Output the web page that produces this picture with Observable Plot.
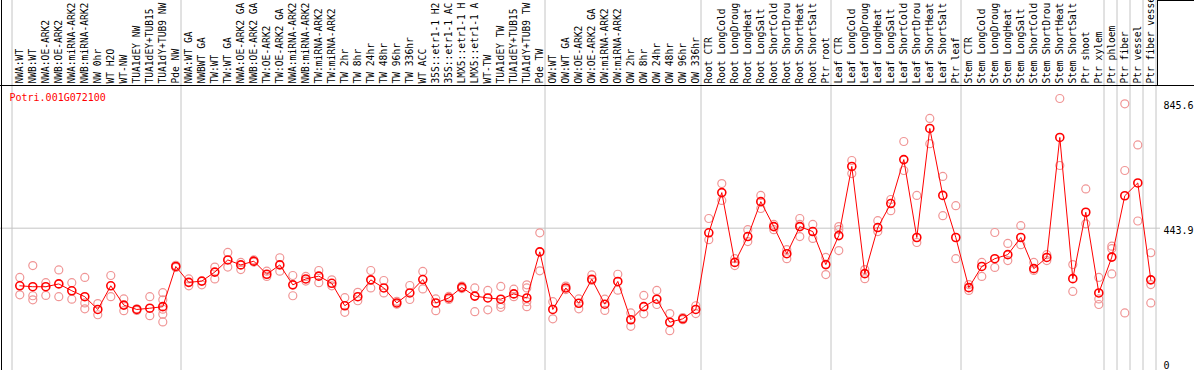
<!DOCTYPE html>
<html><head><meta charset="utf-8">
<script src="https://cdn.jsdelivr.net/npm/d3@7"></script>
<script src="https://cdn.jsdelivr.net/npm/@observablehq/plot@0.6"></script>
<style>body{margin:0;background:#fff;overflow:hidden} svg{display:block}</style>
</head><body><div id="chart"></div>
<script>
const geneId = "Potri.001G072100";
const categories = [
  "NWA:WT","NWB:WT","NWA:OE-ARK2","NWB:OE-ARK2","NWA:miRNA-ARK2","NWB:miRNA-ARK2","NW 0hr","WT H2O","WT-NW","TUA1dEY NW","TUA1dEY+TUB15","TUA1dY+TUB9 NW","Pde NW",
  "NWA:WT GA","NWBWT GA","TW:WT","TW:WT GA","NWA:OE-ARK2 GA","NWB:OE-ARK2 GA","TW:OE-ARK2","TW:OE-ARK2 GA","NWA:miRNA-ARK2","NWB:miRNA-ARK2","TW:miRNA-ARK2","TW:miRNA-ARK2","TW 2hr","TW 8hr","TW 24hr","TW 48hr","TW 96hr","TW 336hr","WT ACC","35S::etr1-1 H2","35S::etr1-1 AC","LMX5::etr1-1 H","LMX5::etr1-1 A","WT-TW","TUA1dEY TW","TUA1dEY+TUB15","TUA1dY+TUB9 TW","Pde TW",
  "OW:WT","OW:WT GA","OW:OE-ARK2","OW:OE-ARK2 GA","OW:miRNA-ARK2","OW:miRNA-ARK2","OW 2hr","OW 8hr","OW 24hr","OW 48hr","OW 96hr","OW 336hr",
  "Root CTR","Root LongCold","Root LongDroug","Root LongHeat","Root LongSalt","Root ShortCold","Root ShortDrou","Root ShortHeat","Root ShortSalt","Ptr root",
  "Leaf CTR","Leaf LongCold","Leaf LongDroug","Leaf LongHeat","Leaf LongSalt","Leaf ShortCold","Leaf ShortDrou","Leaf ShortHeat","Leaf ShortSalt","Ptr leaf",
  "Stem CTR","Stem LongCold","Stem LongDroug","Stem LongHeat","Stem LongSalt","Stem ShortCold","Stem ShortDrou","Stem ShortHeat","Stem ShortSalt","Ptr shoot",
  "Ptr xylem","Ptr phloem","Ptr fiber","Ptr vessel","Ptr fiber vessel"
];
const means = [
  259,256,256,265,243,224,183,259,197,183,187,192,321,
  270,274,303,342,326,338,296,326,262,281,290,267,195,224,278,252,204,236,279,204,220,254,226,220,216,233,220,368,
  183,252,203,280,200,273,150,192,216,142,153,183,
  429,558,334,417,529,449,362,449,433,327,
  420,642,298,446,523,664,414,764,549,414,
  253,321,346,359,414,314,350,735,282,495,
  236,351,548,589,278
];
const replicates = [
  [286,230],[324,227,214],[269,228],[310,224],[269,216],[286,204,185],[202,166],[292,224],[217,179],[185,180],[224,163],[237,214,184,168,143],[325,318],
  [281,259],[262],[319,281],[366,319],[334,311],[342,335],[306,289],[349,306],[292,227],[289,274],[308,269],[278,259],[221,174],[238,211],[308,252],[276,236],[209,200],[260,215],[305,249],[217,179],[225,215],[258,250],[252,176],[244,182],[257,199,190],[248,224],[262,252,208,192],[429,307],
  [208,153],[258,247],[217,185],[294,276],[216,180],[296,245],[172,129],[228,169],[244,199],[170,115],[150,157],[195,170],
  [475,407],[587,533],[346,324],[439,401],[549,507],[456,439],[375,346],[475,456,417],[456,411],[350,295],
  [449,439,372],[661,619],[311,282],[468,433],[536,500],[722,629],[549,398],[796,715],[610,484],[516,346],
  [263,244],[334,289],[430,318],[395,340],[452,391],[334,308],[359,340],[860,645],[327,241],[570,458],
  [286,217,199],[386,378,297],[843,629,172],[711,467],[365,263,204]
];
// index of the first category of each separated group, plus the end
const groupStarts = [0,13,41,53,63,73,84,85,86,87,88];
const yTicks = [443.9, 845.6];
const yZero = [0];

const rows = categories.map((c, i) => ({i, c, mean: means[i]}));
const repRows = replicates.flatMap((vs, i) => vs.map(v => ({i, v})));

const chart = Plot.plot({
  width: 1194, height: 370,
  marginTop: 0, marginBottom: 0, marginLeft: 0, marginRight: 34,
  x: {type: "linear", domain: [0, categories.length - 1], range: [19.3, 1150.3], axis: null},
  y: {domain: [0, 845.6], range: [366, 102.5], axis: null},
  style: {fontFamily: "'DejaVu Sans Mono', monospace", background: "#fff"},
  marks: [
    Plot.ruleY(yTicks.slice(0, 1), {stroke: "#c4c4c4", strokeWidth: 1}),
    Plot.ruleX(groupStarts, {x: d => d - 0.6, stroke: "#c4c4c4", strokeWidth: 1}),
    Plot.text(rows, {x: "i", text: "c", frameAnchor: "top", rotate: -90, textAnchor: "start", lineAnchor: "middle", dy: 83, fontSize: 9.6, fill: "#000"}),
    Plot.dot(repRows, {x: "i", y: "v", r: 4, stroke: "#f09696", strokeWidth: 1.2, fill: "none"}),
    Plot.line(rows, {x: "i", y: "mean", stroke: "#ff0000", strokeWidth: 1}),
    Plot.dot(rows, {x: "i", y: "mean", r: 4, stroke: "#ff0000", strokeWidth: 1.6, fill: "none"}),
    Plot.text([geneId], {frameAnchor: "top-left", textAnchor: "start", lineAnchor: "middle", dx: 9, dy: 97, fill: "#ff0000", fontSize: 10}),
    Plot.text(yTicks, {y: d => d, text: d => d.toFixed(1), frameAnchor: "right", textAnchor: "start", lineAnchor: "top", dx: 3, dy: -1, fontSize: 10, fill: "#000"}),
    Plot.text(yZero, {y: d => d, text: d => String(d), frameAnchor: "right", textAnchor: "start", lineAnchor: "bottom", dx: 3, dy: 2, fontSize: 10, fill: "#000"})
  ]
});
d3.select(chart).append("path")
  .attr("d", "M1.5,0V370M0,85.5H1194M1157.5,0V86M1157,0.5H1194")
  .attr("stroke", "#000").attr("stroke-width", 1).attr("fill", "none");
document.getElementById("chart").append(chart);
</script>
</body></html>
